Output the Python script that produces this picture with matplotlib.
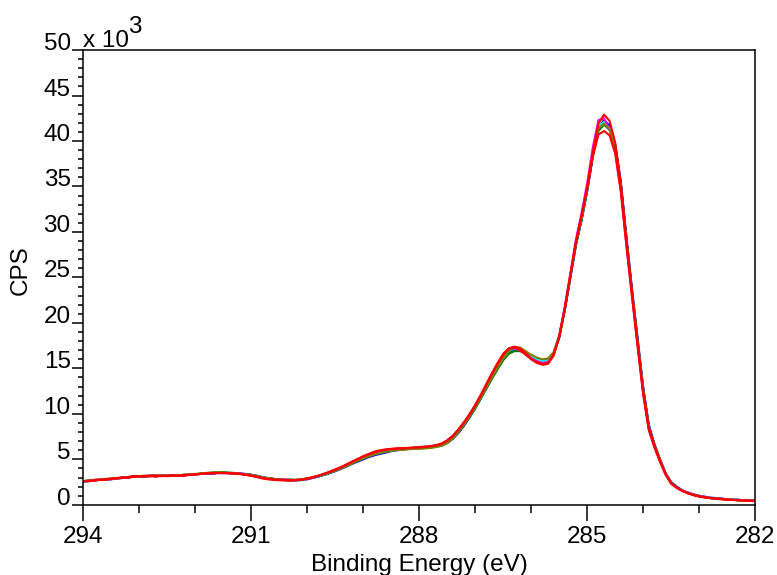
import numpy as np
import matplotlib
matplotlib.use("Agg")
import matplotlib.pyplot as plt
from matplotlib.ticker import MultipleLocator

plt.rcParams['font.family'] = ['Liberation Sans', 'DejaVu Sans']

# binding energy grid (eV), 0.1 eV steps from 294 down to 282
energy = np.round(np.arange(294.0, 281.95, -0.1), 1)

# counts per second, in thousands, one list per acquisition
black = [
    2.6, 2.65, 2.7, 2.8, 2.8, 2.85, 2.9, 3.0, 3.05, 3.1,
    3.15, 3.1, 3.2, 3.15, 3.2, 3.25, 3.25, 3.2, 3.25, 3.3,
    3.35, 3.4, 3.45, 3.45, 3.5, 3.5, 3.5, 3.45, 3.4, 3.35,
    3.3, 3.15, 3.0, 2.9, 2.85, 2.8, 2.75, 2.75, 2.75, 2.8,
    2.9, 3.0, 3.15, 3.3, 3.5, 3.75, 4.0, 4.3, 4.6, 4.85,
    5.1, 5.35, 5.55, 5.7, 5.85, 5.95, 6.05, 6.1, 6.15, 6.2,
    6.25, 6.3, 6.35, 6.45, 6.6, 6.9, 7.35, 8.0, 8.8, 9.7,
    10.7, 11.8, 12.9, 14.0, 15.1, 16.0, 16.7, 17.0, 17.1, 16.8,
    16.4, 16.1, 15.9, 16.0, 16.7, 18.5, 21.5, 25.1, 28.7, 31.5,
    34.6, 38.4, 41.4, 42.3, 41.6, 39.4, 35.3, 29.2, 23.4, 18.0,
    12.7, 8.6, 6.6, 4.9, 3.4, 2.4, 1.9, 1.55, 1.3, 1.1,
    0.95, 0.85, 0.75, 0.7, 0.65, 0.6, 0.55, 0.55, 0.5, 0.5,
    0.45]
blue = [
    2.55, 2.6, 2.7, 2.75, 2.8, 2.8, 2.9, 2.95, 3.0, 3.1,
    3.1, 3.15, 3.15, 3.2, 3.2, 3.2, 3.2, 3.25, 3.3, 3.3,
    3.35, 3.4, 3.4, 3.45, 3.5, 3.5, 3.5, 3.5, 3.45, 3.4,
    3.3, 3.2, 3.05, 2.95, 2.85, 2.8, 2.75, 2.7, 2.7, 2.75,
    2.8, 2.95, 3.1, 3.3, 3.5, 3.7, 3.95, 4.2, 4.5, 4.75,
    5.0, 5.25, 5.45, 5.6, 5.75, 5.9, 6.0, 6.1, 6.15, 6.2,
    6.25, 6.3, 6.35, 6.4, 6.55, 6.8, 7.25, 7.9, 8.7, 9.6,
    10.6, 11.7, 12.8, 13.9, 15.0, 16.0, 16.8, 17.1, 17.0, 16.7,
    16.3, 16.0, 15.8, 15.9, 16.6, 18.4, 21.4, 25.0, 28.6, 31.3,
    34.5, 38.3, 41.3, 42.2, 41.7, 39.6, 35.5, 29.5, 23.7, 18.3,
    12.9, 8.8, 6.7, 5.0, 3.5, 2.5, 2.0, 1.6, 1.35, 1.15,
    1.0, 0.9, 0.8, 0.75, 0.7, 0.6, 0.6, 0.55, 0.5, 0.5,
    0.45]
green = [
    2.6, 2.7, 2.7, 2.75, 2.8, 2.85, 2.95, 3.0, 3.05, 3.1,
    3.15, 3.15, 3.2, 3.2, 3.25, 3.2, 3.25, 3.25, 3.3, 3.3,
    3.35, 3.45, 3.5, 3.55, 3.6, 3.6, 3.55, 3.5, 3.45, 3.35,
    3.3, 3.2, 3.05, 2.9, 2.85, 2.8, 2.75, 2.75, 2.7, 2.8,
    2.85, 3.0, 3.15, 3.3, 3.5, 3.75, 4.0, 4.25, 4.55, 4.85,
    5.1, 5.35, 5.55, 5.7, 5.85, 5.95, 6.05, 6.1, 6.15, 6.2,
    6.2, 6.25, 6.3, 6.4, 6.5, 6.8, 7.3, 8.0, 8.8, 9.7,
    10.6, 11.7, 12.8, 13.9, 14.9, 15.9, 16.6, 16.9, 16.9, 16.6,
    16.2, 15.9, 15.8, 15.9, 16.6, 18.4, 21.5, 25.1, 28.7, 31.4,
    34.6, 38.4, 41.1, 41.8, 41.2, 39.3, 35.1, 29.1, 23.3, 17.9,
    12.6, 8.5, 6.6, 4.9, 3.4, 2.4, 1.9, 1.55, 1.3, 1.1,
    0.95, 0.85, 0.75, 0.7, 0.65, 0.6, 0.55, 0.5, 0.5, 0.45,
    0.45]
cyan = [
    2.5, 2.6, 2.7, 2.75, 2.8, 2.85, 2.9, 2.95, 3.05, 3.1,
    3.1, 3.15, 3.2, 3.2, 3.2, 3.25, 3.2, 3.25, 3.25, 3.3,
    3.35, 3.4, 3.45, 3.5, 3.55, 3.5, 3.5, 3.45, 3.4, 3.35,
    3.25, 3.15, 3.0, 2.9, 2.8, 2.75, 2.7, 2.65, 2.65, 2.7,
    2.85, 3.0, 3.15, 3.35, 3.55, 3.8, 4.05, 4.3, 4.6, 4.9,
    5.15, 5.4, 5.6, 5.75, 5.9, 6.0, 6.1, 6.15, 6.2, 6.3,
    6.35, 6.4, 6.45, 6.5, 6.65, 6.95, 7.45, 8.1, 8.9, 9.8,
    10.8, 11.9, 13.0, 14.1, 15.2, 16.2, 16.9, 17.2, 17.1, 16.8,
    16.3, 16.0, 15.8, 15.9, 16.7, 18.6, 21.7, 25.3, 28.9, 31.6,
    34.8, 38.6, 41.6, 42.1, 41.4, 39.2, 35.0, 28.9, 23.2, 17.8,
    12.5, 8.4, 6.5, 4.9, 3.4, 2.4, 1.9, 1.55, 1.3, 1.1,
    0.95, 0.85, 0.8, 0.7, 0.65, 0.6, 0.6, 0.55, 0.5, 0.5,
    0.45]
magenta = [
    2.6, 2.65, 2.75, 2.8, 2.85, 2.85, 2.9, 3.0, 3.05, 3.1,
    3.15, 3.2, 3.2, 3.15, 3.2, 3.2, 3.25, 3.2, 3.25, 3.3,
    3.35, 3.4, 3.45, 3.5, 3.5, 3.5, 3.5, 3.45, 3.45, 3.35,
    3.3, 3.15, 3.0, 2.9, 2.85, 2.8, 2.8, 2.75, 2.7, 2.75,
    2.85, 3.0, 3.2, 3.4, 3.6, 3.85, 4.1, 4.35, 4.65, 4.95,
    5.2, 5.45, 5.65, 5.8, 5.95, 6.05, 6.1, 6.15, 6.2, 6.25,
    6.3, 6.35, 6.4, 6.5, 6.65, 7.0, 7.5, 8.2, 9.0, 9.9,
    10.9, 12.0, 13.1, 14.2, 15.3, 16.3, 17.0, 17.2, 17.0, 16.6,
    16.1, 15.8, 15.6, 15.7, 16.6, 18.6, 21.8, 25.5, 29.2, 32.1,
    35.4, 39.3, 42.3, 42.5, 41.2, 38.8, 34.6, 28.5, 22.9, 17.5,
    12.2, 8.3, 6.4, 4.8, 3.4, 2.4, 1.9, 1.55, 1.3, 1.1,
    0.95, 0.85, 0.75, 0.7, 0.65, 0.6, 0.55, 0.55, 0.5, 0.5,
    0.45]
olive = [
    2.6, 2.65, 2.75, 2.8, 2.85, 2.9, 2.9, 3.0, 3.05, 3.15,
    3.15, 3.2, 3.2, 3.2, 3.25, 3.2, 3.2, 3.25, 3.3, 3.35,
    3.4, 3.45, 3.5, 3.55, 3.6, 3.55, 3.5, 3.45, 3.4, 3.35,
    3.3, 3.15, 3.0, 2.95, 2.85, 2.8, 2.75, 2.75, 2.75, 2.8,
    2.9, 3.05, 3.2, 3.35, 3.55, 3.75, 4.0, 4.25, 4.55, 4.85,
    5.1, 5.35, 5.55, 5.7, 5.85, 5.95, 6.0, 6.05, 6.1, 6.15,
    6.15, 6.2, 6.25, 6.35, 6.5, 6.8, 7.3, 8.0, 8.8, 9.7,
    10.7, 11.8, 12.9, 14.0, 15.1, 16.1, 16.9, 17.3, 17.3, 16.9,
    16.5, 16.2, 16.0, 16.1, 16.8, 18.6, 21.6, 25.2, 28.8, 31.5,
    34.7, 38.5, 41.4, 41.9, 41.3, 39.2, 35.0, 29.0, 23.3, 17.8,
    12.5, 8.5, 6.6, 4.9, 3.4, 2.4, 1.9, 1.55, 1.3, 1.1,
    0.95, 0.85, 0.75, 0.7, 0.65, 0.6, 0.55, 0.5, 0.5, 0.45,
    0.45]
red_low = [
    2.55, 2.6, 2.7, 2.75, 2.75, 2.85, 2.95, 3.0, 2.95, 3.1,
    3.15, 3.1, 3.15, 3.1, 3.2, 3.15, 3.2, 3.2, 3.2, 3.3,
    3.35, 3.4, 3.45, 3.45, 3.5, 3.5, 3.45, 3.45, 3.4, 3.3,
    3.2, 3.05, 2.9, 2.8, 2.75, 2.7, 2.7, 2.65, 2.7, 2.75,
    2.85, 3.0, 3.2, 3.4, 3.6, 3.85, 4.1, 4.4, 4.7, 5.0,
    5.3, 5.55, 5.8, 5.95, 6.05, 6.15, 6.2, 6.25, 6.25, 6.3,
    6.35, 6.4, 6.45, 6.55, 6.75, 7.1, 7.6, 8.3, 9.1, 10.0,
    11.0, 12.1, 13.3, 14.5, 15.6, 16.6, 17.2, 17.3, 17.0, 16.5,
    16.0, 15.6, 15.4, 15.5, 16.4, 18.4, 21.6, 25.3, 29.0, 31.8,
    34.8, 38.3, 40.7, 41.1, 40.6, 38.6, 34.4, 28.5, 22.9, 17.4,
    12.1, 8.2, 6.3, 4.7, 3.3, 2.3, 1.85, 1.5, 1.25, 1.05,
    0.9, 0.8, 0.75, 0.65, 0.6, 0.55, 0.55, 0.5, 0.45, 0.45,
    0.4]
red_high = [
    2.6, 2.65, 2.65, 2.75, 2.8, 2.9, 2.9, 2.95, 3.05, 3.15,
    3.1, 3.15, 3.2, 3.25, 3.15, 3.2, 3.25, 3.2, 3.3, 3.3,
    3.35, 3.4, 3.45, 3.5, 3.5, 3.5, 3.5, 3.45, 3.4, 3.3,
    3.2, 3.1, 2.95, 2.85, 2.8, 2.75, 2.7, 2.7, 2.7, 2.8,
    2.9, 3.05, 3.2, 3.4, 3.65, 3.9, 4.15, 4.45, 4.75, 5.05,
    5.35, 5.6, 5.85, 6.0, 6.1, 6.15, 6.2, 6.2, 6.25, 6.3,
    6.3, 6.35, 6.45, 6.55, 6.7, 7.05, 7.55, 8.25, 9.0, 9.9,
    10.9, 12.0, 13.2, 14.4, 15.5, 16.5, 17.2, 17.4, 17.2, 16.7,
    16.1, 15.7, 15.5, 15.6, 16.5, 18.5, 21.6, 25.3, 28.9, 31.8,
    35.0, 38.8, 41.9, 42.9, 42.2, 39.8, 35.3, 29.2, 23.5, 17.9,
    12.5, 8.5, 6.5, 4.9, 3.4, 2.4, 1.9, 1.55, 1.3, 1.1,
    0.95, 0.85, 0.75, 0.7, 0.65, 0.6, 0.55, 0.5, 0.5, 0.45,
    0.45]

series = [black, blue, green, cyan, magenta, olive, red_low, red_high]
colors = ['black', 'blue', 'green', 'cyan', 'magenta', '#808000', 'red', 'red']

fig = plt.figure(figsize=(7.77, 5.75), dpi=100)
ax = fig.add_axes([0.107, 0.122, 0.865, 0.791])

for vals, c in zip(series, colors):
    ax.plot(energy, vals, color=c, lw=1.5)

ax.set_xlim(294, 282)
ax.set_ylim(0, 50)
ax.xaxis.set_major_locator(MultipleLocator(3))
ax.xaxis.set_minor_locator(MultipleLocator(1))
ax.yaxis.set_major_locator(MultipleLocator(5))
ax.yaxis.set_minor_locator(MultipleLocator(1))

for s in ax.spines.values():
    s.set_linewidth(1.1)

fs = 17.5
ax.tick_params(axis='x', which='major', direction='out', length=11.5, width=1.1,
               pad=4, labelsize=fs)
ax.tick_params(axis='x', which='minor', direction='out', length=6, width=1.1)
ax.tick_params(axis='y', which='major', direction='out', length=8, width=1.1,
               pad=1, labelsize=fs)
ax.tick_params(axis='y', which='minor', direction='out', length=3.5, width=1.1)
for lab in ax.get_yticklabels():
    lab.set_verticalalignment('baseline')

ax.set_xlabel('Binding Energy (eV)', fontsize=fs)
ax.xaxis.set_label_coords(0.5, -0.107)
ax.set_ylabel('CPS', fontsize=fs)
ax.yaxis.set_label_coords(-0.076, 0.515)

# "x 10^3" multiplier in the top-left corner
ax.annotate('x 10', xy=(0, 1), xycoords='axes fraction', xytext=(0, 3),
            textcoords='offset pixels', ha='left', va='baseline', fontsize=fs)
ax.annotate('3', xy=(0, 1), xycoords='axes fraction', xytext=(45, 17),
            textcoords='offset pixels', ha='left', va='baseline', fontsize=fs)

fig.savefig('out.png', dpi=100)
